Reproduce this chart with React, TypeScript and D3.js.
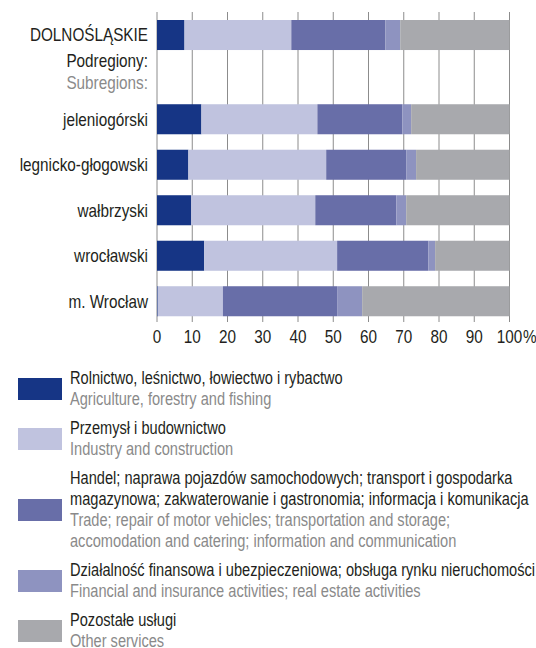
import React from 'react';
import * as d3 from 'd3';

// share of employed by sector, %
const regions = ['DOLNOŚLĄSKIE', 'jeleniogórski', 'legnicko-głogowski', 'wałbrzyski', 'wrocławski', 'm. Wrocław'];
const agriculture = [7.8, 12.6, 8.9, 9.7, 13.4, 0.2];
const industry = [30.3, 32.9, 39.1, 35.2, 37.7, 18.5];
const trade = [26.7, 24.1, 22.7, 23.0, 25.9, 32.4];
const finance = [4.2, 2.5, 2.8, 2.8, 1.9, 7.1];
const otherServices = [31.0, 27.9, 26.5, 29.3, 21.1, 41.8];

const xTicks = [0, 10, 20, 30, 40, 50, 60, 70, 80, 90, 100];

const seriesKeys = ['agriculture', 'industry', 'trade', 'finance', 'other'];
const colors = ['#163585', '#c0c3df', '#686ea8', '#8e93c0', '#a8a9ad'];

const legendPl = [
  ['Rolnictwo, leśnictwo, łowiectwo i rybactwo'],
  ['Przemysł i budownictwo'],
  ['Handel; naprawa pojazdów samochodowych; transport i gospodarka', 'magazynowa; zakwaterowanie i gastronomia; informacja i komunikacja'],
  ['Działalność finansowa i ubezpieczeniowa; obsługa rynku nieruchomości'],
  ['Pozostałe usługi'],
];
const legendEn = [
  ['Agriculture, forestry and fishing'],
  ['Industry and construction'],
  ['Trade; repair of motor vehicles; transportation and storage;', 'accomodation and catering; information and communication'],
  ['Financial and insurance activities; real estate activities'],
  ['Other services'],
];

const FONT = '"Liberation Sans", Arial, sans-serif';

// condensed text helper (squeezed horizontally to mimic the original's condensed face)
const T = ({ x, y, anchor = 'start', size = 18, sx = 0.85, fill = '#231f20', children }: any) => (
  <text
    transform={`translate(${x},${y}) scale(${sx},1)`}
    dy="0.35em"
    textAnchor={anchor}
    fontSize={size}
    fill={fill}
  >
    {children}
  </text>
);

export default function App() {
  const width = 536;
  const height = 648;

  const x = d3.scaleLinear().domain([0, 100]).range([157, 509.5]);

  const subregions = regions.slice(1);
  const ySub = d3.scaleBand<string>().domain(subregions).range([96.5, 324]).paddingInner(0.34).paddingOuter(0.17);
  const barH = ySub.bandwidth();
  const yPos = (r: string) => (r === regions[0] ? 20 : (ySub(r) as number));

  const table = regions.map((r, i) => ({
    region: r,
    agriculture: agriculture[i],
    industry: industry[i],
    trade: trade[i],
    finance: finance[i],
    other: otherServices[i],
  }));
  const stacked = d3.stack<any>().keys(seriesKeys)(table);

  const gridTop = 12;
  const gridBottom = 322;

  // legend layout
  const lineH = 21;
  let cy = 378;
  const legendItems = legendPl.map((pl, i) => {
    const en = legendEn[i];
    const n = pl.length + en.length;
    const item = { pl, en, top: cy, n };
    cy += n * lineH + 8;
    return item;
  });

  return (
    <svg width={width} height={height} style={{ position: 'absolute', left: 0, top: 0 }} fontFamily={FONT}>
      {/* grid */}
      {xTicks.map(t => (
        <line key={t} x1={x(t)} x2={x(t)} y1={gridTop} y2={gridBottom} stroke="#8c8c8c" strokeWidth={1} />
      ))}
      {/* bars */}
      {stacked.map((s, si) => (
        <g key={s.key} fill={colors[si]}>
          {s.map((d, i) => (
            <rect key={i} x={x(d[0])} y={yPos(regions[i])} width={Math.max(0, x(d[1]) - x(d[0]))} height={barH} />
          ))}
        </g>
      ))}
      {/* category labels */}
      {regions.map(r => (
        <T key={r} x={148} y={yPos(r) + barH / 2} anchor="end">{r}</T>
      ))}
      <T x={148} y={61} anchor="end">Podregiony:</T>
      <T x={148} y={83} anchor="end" fill="#8a8a8a">Subregions:</T>
      {/* x tick labels */}
      {xTicks.map(t => (
        <T key={t} x={x(t)} y={337} anchor="middle">{t}</T>
      ))}
      <T x={x(100) + 13.5} y={337}>%</T>
      {/* legend */}
      {legendItems.map((it, i) => {
        const totalH = it.n * lineH;
        const swY = it.top - 10 + totalH / 2 - 11;
        return (
          <g key={i}>
            <rect x={18} y={swY} width={44} height={22} fill={colors[i]} />
            {it.pl.map((l, j) => (
              <T key={'p' + j} x={70} y={it.top + j * lineH} size={17.5} sx={0.835}>{l}</T>
            ))}
            {it.en.map((l, j) => (
              <T key={'e' + j} x={70} y={it.top + (it.pl.length + j) * lineH} size={17.5} sx={0.835} fill="#8a8a8a">{l}</T>
            ))}
          </g>
        );
      })}
    </svg>
  );
}
